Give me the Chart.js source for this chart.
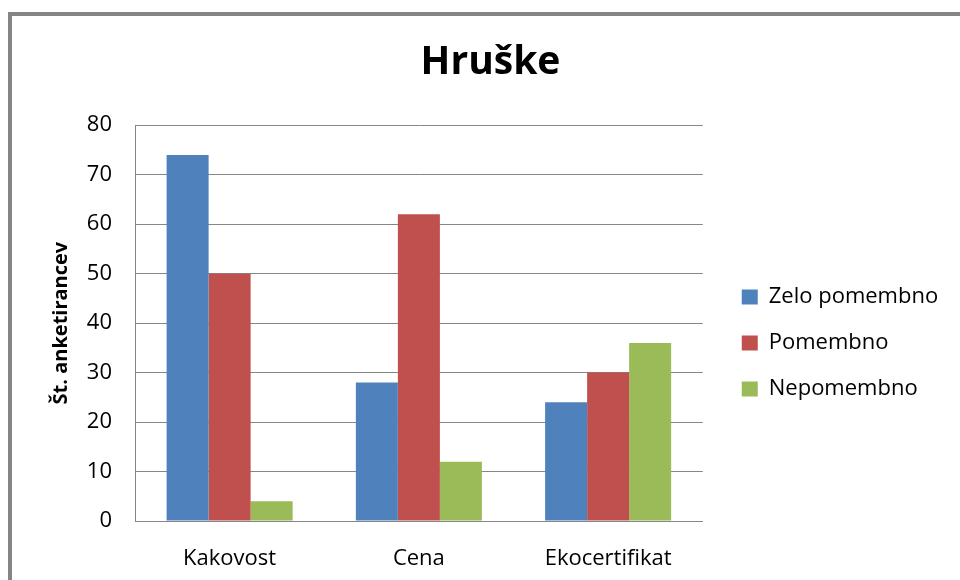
<!DOCTYPE html>
<html>
<head>
<meta charset="utf-8">
<script src="https://cdn.jsdelivr.net/npm/chart.js@4"></script>
<style>
    html, body { margin: 0; padding: 0; background: #fff; overflow: hidden; }
    #frame {
        position: absolute; left: 8px; top: 12px; width: 1000px; height: 700px;
        border-left: 4px solid #858585; border-top: 4px solid #858585;
    }
    #hruske { position: absolute; left: 0; top: 0; width: 960px; height: 580px; }
</style>
</head>
<body>
<div id="frame"></div>
<canvas id="hruske" width="960" height="580"></canvas>
<script>
const categories = ['Kakovost', 'Cena', 'Ekocertifikat'];
const seriesNames = ['Zelo pomembno', 'Pomembno', 'Nepomembno'];
const zeloPomembno = [74, 28, 24];
const pomembno = [50, 62, 30];
const nepomembno = [4, 12, 36];
const colors = ['#4F81BD', '#C0504D', '#9BBB59'];

// nudges legend and title a bit, like the Excel layout
const layoutShift = {
    id: 'layoutShift',
    afterLayout(chart) {
        const lg = chart.legend;
        lg.left += 15; lg.right += 15;
        lg.top += 20; lg.bottom += 20;
        const tb = chart.titleBlock;
        tb.left += 18; tb.right += 18;
    }
};

document.addEventListener('DOMContentLoaded', function() {
    const values = [zeloPomembno, pomembno, nepomembno];
    const datasets = seriesNames.map((name, i) => ({
        label: name,
        data: values[i],
        backgroundColor: colors[i],
        borderWidth: 0,
        categoryPercentage: 0.666,
        barPercentage: 1.0
    }));

    const font = 'Open Sans';
    const ctx = document.getElementById('hruske').getContext('2d');
    new Chart(ctx, {
        type: 'bar',
        data: { labels: categories, datasets: datasets },
        plugins: [layoutShift],
        options: {
            responsive: false,
            maintainAspectRatio: false,
            animation: false,
            layout: { padding: { left: 12, top: 0, right: 27, bottom: 13.6 } },
            scales: {
                x: {
                    grid: { display: false },
                    border: { display: true, color: '#868686' },
                    ticks: { color: '#000', padding: 17, font: { family: font, size: 22 } },
                    afterFit: s => { s.height = 45.4; }
                },
                y: {
                    min: 0,
                    max: 80,
                    ticks: { stepSize: 10, color: '#000', padding: 23, font: { family: font, size: 22 } },
                    grid: { color: '#868686', drawTicks: false },
                    border: { display: true, color: '#868686' },
                    title: {
                        display: true,
                        text: 'Št. anketirancev',
                        color: '#000',
                        padding: { top: 37, bottom: 0 },
                        font: { family: font, size: 20, weight: 'bold' }
                    },
                    afterFit: s => { s.width = 123; }
                }
            },
            plugins: {
                title: {
                    display: true,
                    text: 'Hruške',
                    color: '#000',
                    padding: { top: 39, bottom: 39.4 },
                    font: { family: font, size: 39, weight: 'bold' }
                },
                legend: {
                    position: 'right',
                    fullSize: false,
                    labels: {
                        boxWidth: 16,
                        boxHeight: 15,
                        padding: 24,
                        color: '#000',
                        font: { family: font, size: 22 }
                    }
                },
                tooltip: { enabled: false }
            }
        }
    });
});
</script>
</body>
</html>
